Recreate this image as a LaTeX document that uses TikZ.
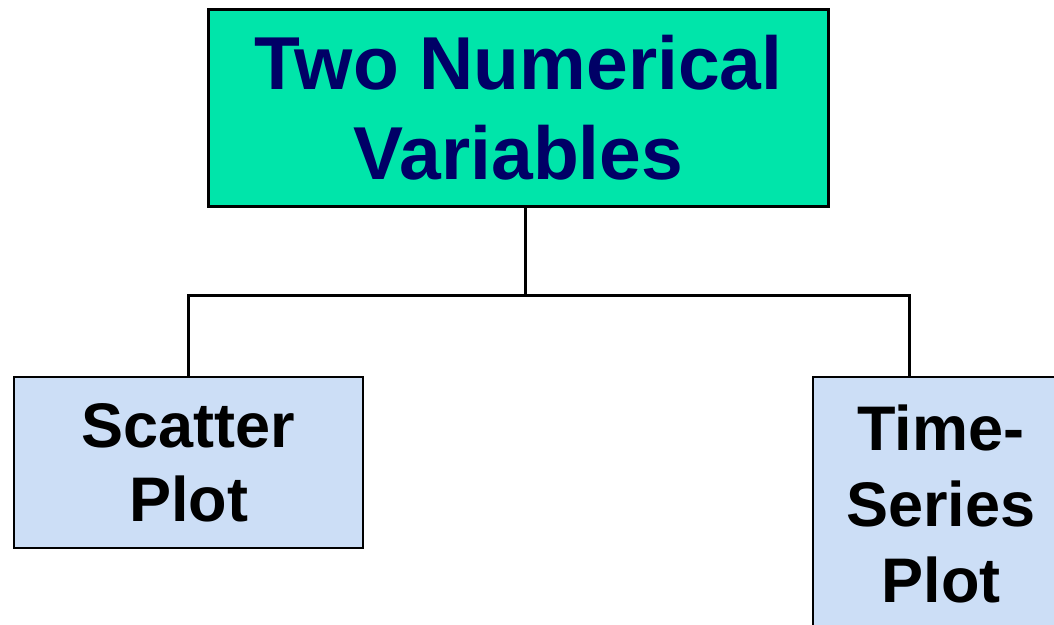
\documentclass[tikz,border=0pt]{standalone}
\usepackage{fontspec}
\setmainfont{Liberation Sans}
\definecolor{topgreen}{RGB}{0,229,170}
\definecolor{navytext}{RGB}{0,0,102}
\definecolor{leafblue}{RGB}{204,222,246}
\tikzset{
  topbox/.style={draw=black, line width=3pt, fill=topgreen, text=navytext,
    minimum width=620pt, minimum height=197pt, inner sep=0pt, align=center,
    font=\fontsize{75}{90}\selectfont\bfseries},
  leafbox/.style={draw=black, line width=2pt, fill=leafblue, text=black,
    inner sep=0pt, align=center,
    font=\fontsize{63}{74}\selectfont\bfseries},
  conn/.style={draw=black, line width=3pt}
}
\begin{document}
\begin{tikzpicture}[x=1pt,y=-1pt]
\useasboundingbox (0,0) rectangle (1054,624);
\node[topbox] (top) at (518.5,108) {Two Numerical\\Variables};
\node[leafbox, minimum width=349pt, minimum height=171pt] (left) at (188.5,462.5) {Scatter\\Plot};
\node[leafbox, minimum width=256pt, minimum height=268pt] (right) at (941,511)
  {\raisebox{10pt}{\fontsize{63}{76}\selectfont\begin{tabular}{@{}c@{}}Time-\\Series\\Plot\end{tabular}}};
\coordinate (j) at (525,295);
\coordinate (rj) at (909,295);
\draw[conn] (top.south -| j) -- (j);
\draw[conn, line join=miter] (left.north) |- (rj) -- (right.north -| rj);
\end{tikzpicture}
\end{document}
